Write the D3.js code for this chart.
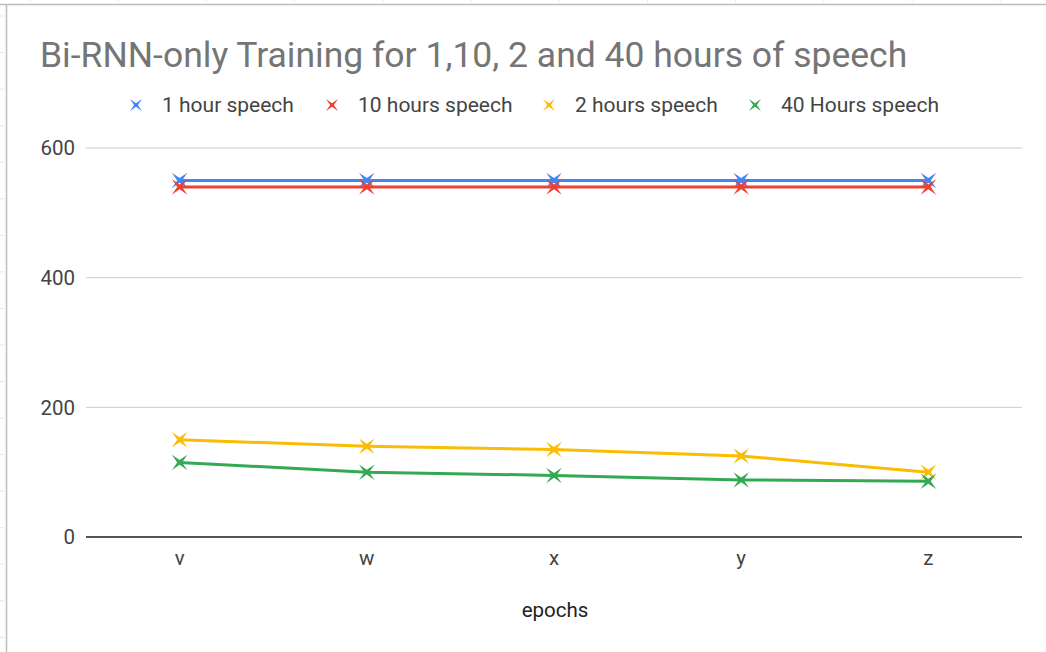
<!DOCTYPE html>
<html>
<head>
<meta charset="utf-8">
<script src="https://cdn.jsdelivr.net/npm/d3@7"></script>
<style>
  body { margin: 0; background: #fff; }
  text { font-family: Roboto, Arial, sans-serif; }
</style>
</head>
<body>
<svg id="chart" width="1046" height="652"></svg>
<script>
const categories = ["v", "w", "x", "y", "z"];
const seriesNames = ["1 hour speech", "10 hours speech", "2 hours speech", "40 Hours speech"];
const oneHour = [550, 550, 550, 550, 550];
const tenHours = [540, 540, 540, 540, 540];
const twoHours = [150, 140, 135, 125, 100];
const fortyHours = [115, 100, 95, 88, 86];
const yTicks = [0, 200, 400, 600];
const colors = ["#4285f4", "#ea4335", "#fbbc04", "#34a853"];

const series = [oneHour, tenHours, twoHours, fortyHours].map((values, i) => ({
    name: seriesNames[i],
    color: colors[i],
    values: values
}));

const svg = d3.select("#chart");

// spreadsheet frame behind the chart
svg.append("line").attr("x1", 0).attr("x2", 1046).attr("y1", 4.5).attr("y2", 4.5)
    .attr("stroke", "#bdbdbd").attr("stroke-width", 1.5);
svg.append("line").attr("x1", 6.5).attr("x2", 6.5).attr("y1", 4).attr("y2", 652)
    .attr("stroke", "#bdbdbd").attr("stroke-width", 1.5);
d3.range(16, 652, 36.55).forEach(y => {
    svg.append("line").attr("x1", 0).attr("x2", 4).attr("y1", y).attr("y2", y)
        .attr("stroke", "#e6e6e6");
});
d3.range(30, 1046, 88.2).forEach(x => {
    svg.append("line").attr("x1", x).attr("x2", x).attr("y1", 0).attr("y2", 3)
        .attr("stroke", "#eeeeee");
});

const x = d3.scaleBand().domain(categories).range([86, 1022]).padding(0);
const y = d3.scaleLinear().domain([0, 600]).range([537, 148]);

// gridlines
svg.append("g")
    .selectAll("line")
    .data(yTicks.filter(d => d !== 0))
    .join("line")
    .attr("x1", 86).attr("x2", 1022)
    .attr("y1", d => y(d)).attr("y2", d => y(d))
    .attr("stroke", "#cccccc").attr("stroke-width", 1);

// y labels
svg.append("g")
    .selectAll("text")
    .data(yTicks)
    .join("text")
    .attr("x", 75)
    .attr("y", d => y(d))
    .attr("dy", "0.35em")
    .attr("text-anchor", "end")
    .attr("font-size", 20.5)
    .attr("fill", "#444")
    .text(d => d);

// baseline
svg.append("line")
    .attr("x1", 86).attr("x2", 1022)
    .attr("y1", y(0)).attr("y2", y(0))
    .attr("stroke", "#555").attr("stroke-width", 2);

// x labels
svg.append("g")
    .selectAll("text")
    .data(categories)
    .join("text")
    .attr("x", d => x(d) + x.bandwidth() / 2)
    .attr("y", 565)
    .attr("text-anchor", "middle")
    .attr("font-size", 20.5)
    .attr("fill", "#444")
    .text(d => d);

svg.append("text")
    .attr("x", 555).attr("y", 617)
    .attr("text-anchor", "middle")
    .attr("font-size", 20.5)
    .attr("fill", "#222")
    .text("epochs");

// title
svg.append("text")
    .attr("x", 40).attr("y", 67)
    .attr("font-size", 35.5)
    .attr("fill", "#757575")
    .text("Bi-RNN-only Training for 1,10, 2 and 40 hours of speech");

// x-shaped star marker
function starPath(size) {
    const r = size, ri = size * 0.22;
    const pts = [];
    for (let k = 0; k < 8; k++) {
        const a = Math.PI / 4 + k * Math.PI / 4;
        const rr = k % 2 === 0 ? r : ri;
        pts.push([Math.cos(a) * rr, Math.sin(a) * rr]);
    }
    return d3.line()(pts) + "Z";
}

const line = d3.line()
    .x((d, i) => x(categories[i]) + x.bandwidth() / 2)
    .y(d => y(d));

const lines = svg.append("g");
series.forEach(s => {
    lines.append("path")
        .datum(s.values)
        .attr("d", line)
        .attr("fill", "none")
        .attr("stroke", s.color)
        .attr("stroke-width", 3)
        .attr("stroke-linejoin", "round");
    lines.append("g")
        .selectAll("path")
        .data(s.values)
        .join("path")
        .attr("transform", (d, i) => `translate(${x(categories[i]) + x.bandwidth() / 2},${y(d)})`)
        .attr("d", starPath(11))
        .attr("fill", s.color);
});

// legend
const legendX = [136, 332, 549, 755];
const legend = svg.append("g");
series.forEach((s, i) => {
    legend.append("path")
        .attr("transform", `translate(${legendX[i]},105)`)
        .attr("d", starPath(8.5))
        .attr("fill", s.color);
    legend.append("text")
        .attr("x", legendX[i] + 26)
        .attr("y", 105)
        .attr("dy", "0.35em")
        .attr("font-size", 21)
        .attr("fill", "#444")
        .text(s.name);
});
</script>
</body>
</html>
